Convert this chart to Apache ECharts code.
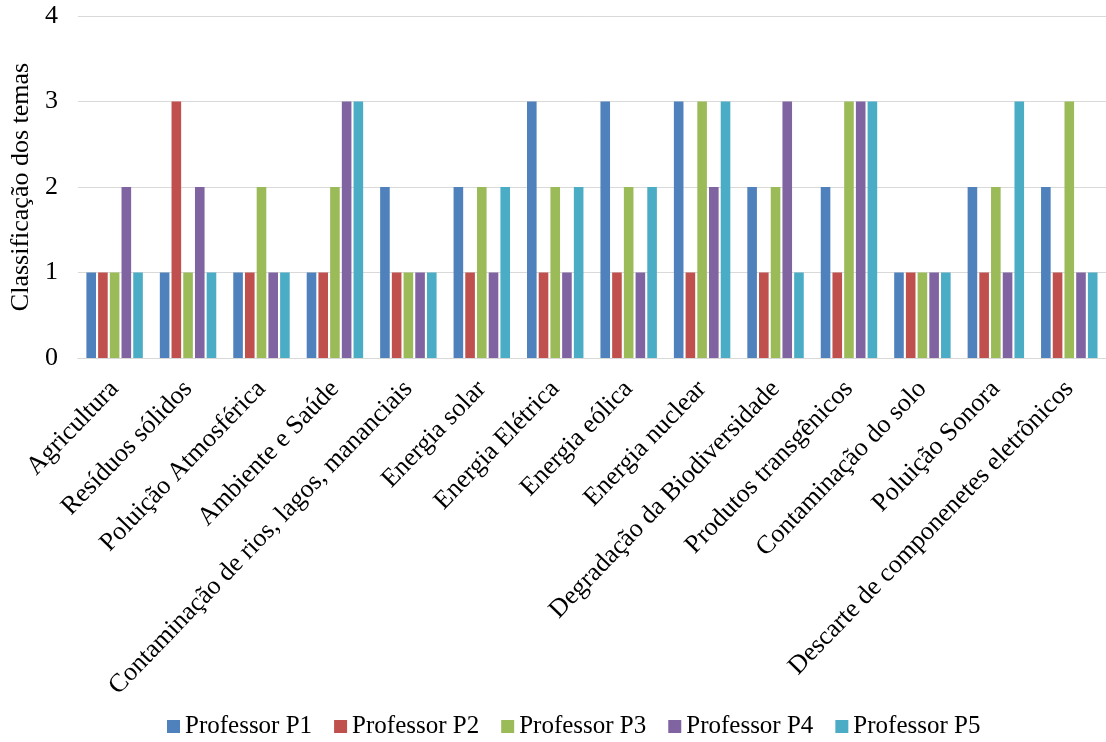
<!DOCTYPE html>
<html>
<head>
<meta charset="utf-8">
<script src="https://cdn.jsdelivr.net/npm/echarts@6/dist/echarts.min.js"></script>
<style>
  html, body { margin: 0; padding: 0; background: #fff; }
  #chart { width: 1106px; height: 742px; }
</style>
</head>
<body>
<div id="chart"></div>
<script>
// Temas ambientais avaliados pelos professores
const categories = [
  'Agricultura',
  'Resíduos sólidos',
  'Poluição Atmosférica',
  'Ambiente e Saúde',
  'Contaminação de rios, lagos, mananciais',
  'Energia solar',
  'Energia Elétrica',
  'Energia eólica',
  'Energia nuclear',
  'Degradação da Biodiversidade',
  'Produtos transgênicos',
  'Contaminação do solo',
  'Poluição Sonora',
  'Descarte de componenetes eletrônicos'
];

const seriesNames = ['Professor P1', 'Professor P2', 'Professor P3', 'Professor P4', 'Professor P5'];

// Classificação atribuída por cada professor
const professorP1 = [1, 1, 1, 1, 2, 2, 3, 3, 3, 2, 2, 1, 2, 2];
const professorP2 = [1, 3, 1, 1, 1, 1, 1, 1, 1, 1, 1, 1, 1, 1];
const professorP3 = [1, 1, 2, 2, 1, 2, 2, 2, 3, 2, 3, 1, 2, 3];
const professorP4 = [2, 2, 1, 3, 1, 1, 1, 1, 2, 3, 3, 1, 1, 1];
const professorP5 = [1, 1, 1, 3, 1, 2, 2, 2, 3, 1, 3, 1, 3, 1];

const yTicks = [0, 1, 2, 3, 4];
const yAxisTitle = 'Classificação dos temas';

const seriesValues = [professorP1, professorP2, professorP3, professorP4, professorP5];
const colors = ['#4F81BD', '#C0504D', '#9BBB59', '#8064A2', '#4BACC6'];
const font = '"Liberation Serif", "Times New Roman", serif';

const chart = echarts.init(document.getElementById('chart'), null, { renderer: 'canvas' });

chart.setOption({
  animation: false,
  backgroundColor: '#ffffff',
  color: colors,
  textStyle: { fontFamily: font, color: '#000' },
  grid: {
    left: 73,
    top: 16,
    width: 1042,
    height: 342,
    containLabel: false
  },
  legend: {
    data: seriesNames,
    left: 162,
    top: 709,
    itemWidth: 13,
    itemHeight: 13,
    itemGap: 22,
    icon: 'rect',
    textStyle: { fontFamily: font, fontSize: 25, color: '#000' }
  },
  xAxis: {
    type: 'category',
    data: categories,
    axisLine: { show: true, lineStyle: { color: '#d9d9d9', width: 1 } },
    axisTick: { show: false },
    axisLabel: {
      interval: 0,
      rotate: 46,
      margin: 27,
      fontFamily: font,
      fontSize: 26,
      color: '#000'
    }
  },
  yAxis: {
    type: 'value',
    min: yTicks[0],
    max: yTicks[yTicks.length - 1],
    interval: 1,
    name: yAxisTitle,
    nameLocation: 'middle',
    nameGap: 30,
    nameRotate: 90,
    nameTextStyle: { fontFamily: font, fontSize: 26, color: '#000' },
    axisLine: { show: false },
    axisTick: { show: false },
    axisLabel: {
      margin: 20,
      fontFamily: font,
      fontSize: 26,
      color: '#000'
    },
    splitLine: { show: true, lineStyle: { color: '#d9d9d9', width: 1 } }
  },
  series: seriesNames.map((name, i) => ({
    name: name,
    type: 'bar',
    data: seriesValues[i],
    barWidth: 9.6,
    barGap: '22%',
    itemStyle: { color: colors[i] }
  }))
});
</script>
</body>
</html>
